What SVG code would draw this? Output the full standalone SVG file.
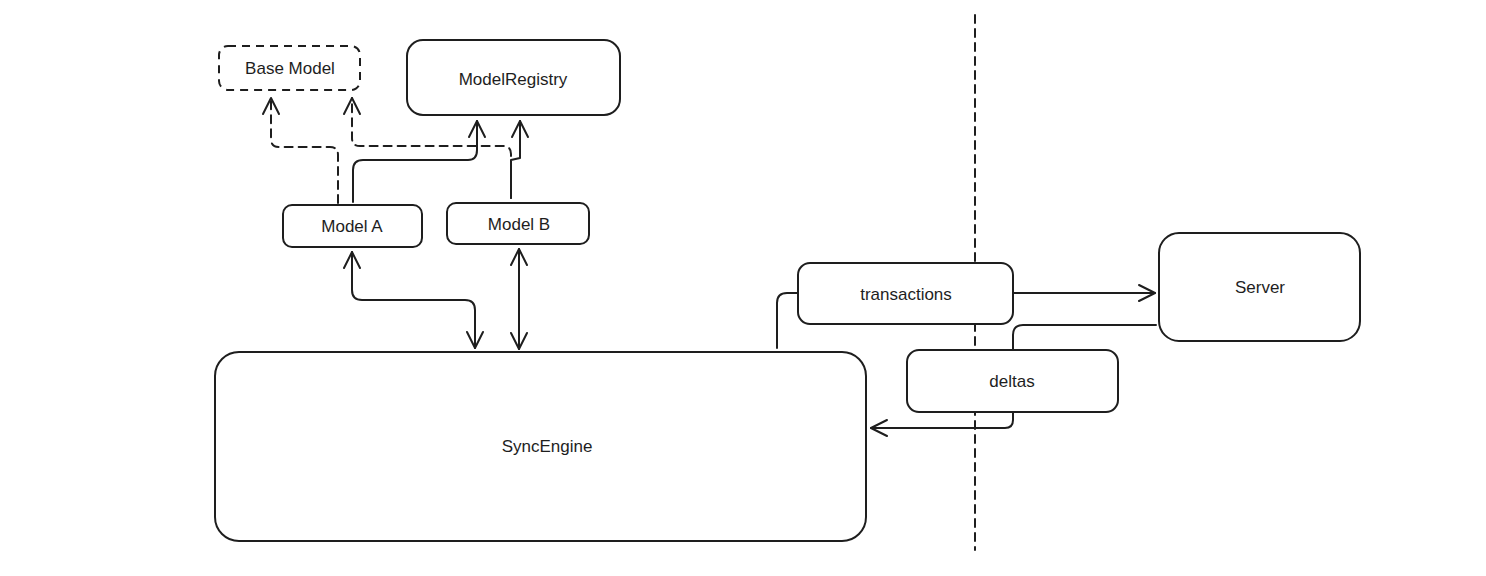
<svg xmlns="http://www.w3.org/2000/svg" width="1486" height="576" viewBox="0 0 1486 576">
<style>
.box{fill:#fff;stroke:#1e1e1e;stroke-width:2}
.dash{stroke-dasharray:8 6}
.lbl{font-family:"Liberation Sans",Arial,sans-serif;font-size:17px;fill:#1e1e1e;text-anchor:middle;dominant-baseline:central}
.ln{fill:none;stroke:#1e1e1e;stroke-width:2;stroke-linecap:round;stroke-linejoin:round}
</style>
<defs>
<marker id="ah" viewBox="0 0 20 20" refX="18" refY="10" markerWidth="20" markerHeight="20" markerUnits="userSpaceOnUse" orient="auto-start-reverse">
<path d="M2 2 L18 10 L2 18" fill="none" stroke="#1e1e1e" stroke-width="2" stroke-linecap="round" stroke-linejoin="round"/>
</marker>
</defs>
<rect width="1486" height="576" fill="#fff"/>
<line x1="975" y1="15" x2="975" y2="550" class="ln dash"/>
<g id="connectors">
<path class="ln dash" d="M338 203 L338 155 Q338 147 330 147 L279 147 Q271 147 271 139 L271 98" marker-end="url(#ah)"/>
<path class="ln dash" d="M511 198 L511 154 Q511 146 503 146 L360 146 Q352 146 352 138 L352 98" marker-end="url(#ah)"/>
<path class="ln" d="M353 202 L353 170 Q353 160 363 160 L468 160 Q477 160 477 150 L477 121" marker-end="url(#ah)"/>
<path class="ln" d="M511 198 L511 160 L520 158 L520 121" marker-end="url(#ah)"/>
<path class="ln" d="M352 252 L352 290 Q352 300 362 300 L465 300 Q475 300 475 310 L475 348" marker-start="url(#ah)" marker-end="url(#ah)"/>
<path class="ln" d="M519 249 L519 349" marker-start="url(#ah)" marker-end="url(#ah)"/>
<path class="ln" d="M777 348 L777 303 Q777 293 787 293 L798 293"/>
<path class="ln" d="M1014 293 L1155 293" marker-end="url(#ah)"/>
<path class="ln" d="M1156 325 L1023 325 Q1013 325 1013 335 L1013 350"/>
<path class="ln" d="M1013 412 L1013 420 Q1013 428 1005 428 L871 428" marker-end="url(#ah)"/>
</g>
<g id="base-model"><rect class="box dash" x="219" y="46" width="141" height="44" rx="9"/><text class="lbl" x="290" y="68">Base Model</text></g>
<g id="model-registry"><rect class="box" x="407" y="40" width="213" height="75" rx="16"/><text class="lbl" x="513" y="79">ModelRegistry</text></g>
<g id="model-a"><rect class="box" x="283" y="205" width="139" height="42" rx="9"/><text class="lbl" x="352" y="226">Model A</text></g>
<g id="model-b"><rect class="box" x="447" y="203" width="142" height="41" rx="9"/><text class="lbl" x="519" y="224">Model B</text></g>
<g id="sync-engine"><rect class="box" x="215" y="352" width="651" height="189" rx="24"/><text class="lbl" x="547" y="446">SyncEngine</text></g>
<g id="transactions"><rect class="box" x="798" y="263" width="215" height="61" rx="12"/><text class="lbl" x="906" y="294">transactions</text></g>
<g id="server"><rect class="box" x="1159" y="233" width="201" height="108" rx="20"/><text class="lbl" x="1260" y="287">Server</text></g>
<g id="deltas"><rect class="box" x="907" y="350" width="211" height="62" rx="12"/><text class="lbl" x="1012" y="381">deltas</text></g>
</svg>
